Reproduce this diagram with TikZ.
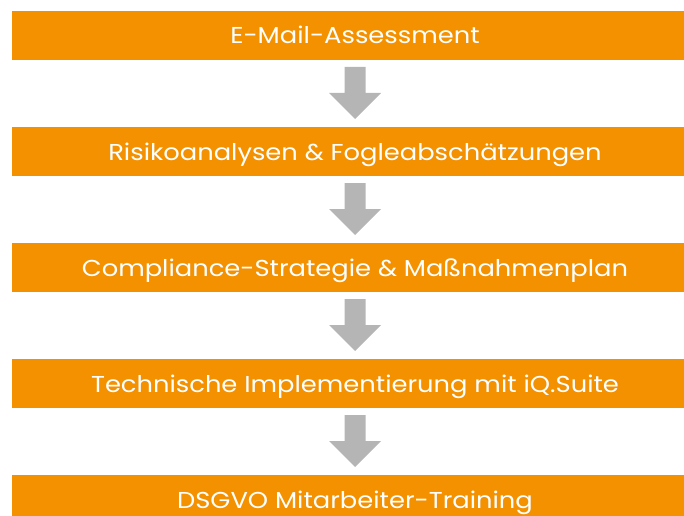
\documentclass[tikz,border=0pt]{standalone}
\usepackage{fontspec}
\setmainfont[FakeStretch=1.12]{Poppins}
\usetikzlibrary{calc}
\definecolor{boxorange}{HTML}{F39100}
\definecolor{arrowgray}{HTML}{B5B5B5}
\begin{document}
\begin{tikzpicture}[x=1pt,y=1pt,
  stepbox/.style={fill=boxorange, draw=none, minimum width=686pt, minimum height=49pt, inner sep=0pt,
    text=white, font=\fontsize{23}{26}\selectfont, text height=22pt, text depth=5pt},
  garrow/.style={fill=arrowgray, draw=none}]
\useasboundingbox (0,0) rectangle (684,515);
\clip (0,0) rectangle (684,515);
\node[stepbox] (b1) at (355,515-35.5) {E-Mail-Assessment};
\node[stepbox] (b2) at (355,515-151.5) {Risikoanalysen \& Fogleabschätzungen};
\node[stepbox] (b3) at (355,515-267.5) {Compliance-Strategie \& Maßnahmenplan};
\node[stepbox] (b4) at (355,515-383.5) {Technische Implementierung mit iQ.Suite};
\node[stepbox] (b5) at (355,515-499.5) {DSGVO Mitarbeiter-Training};
\foreach \a/\b in {b1/b2,b2/b3,b3/b4,b4/b5}{
  \coordinate (m\a) at ($(\a.south)!0.5!(\b.north)$);
  \fill[garrow] ([shift={(-10.5,26.5)}]m\a) -- ([shift={(10.5,26.5)}]m\a) -- ([shift={(10.5,0.5)}]m\a)
    -- ([shift={(26,0.5)}]m\a) -- ([shift={(0,-25.5)}]m\a) -- ([shift={(-26,0.5)}]m\a)
    -- ([shift={(-10.5,0.5)}]m\a) -- cycle;
}
\end{tikzpicture}
\end{document}
